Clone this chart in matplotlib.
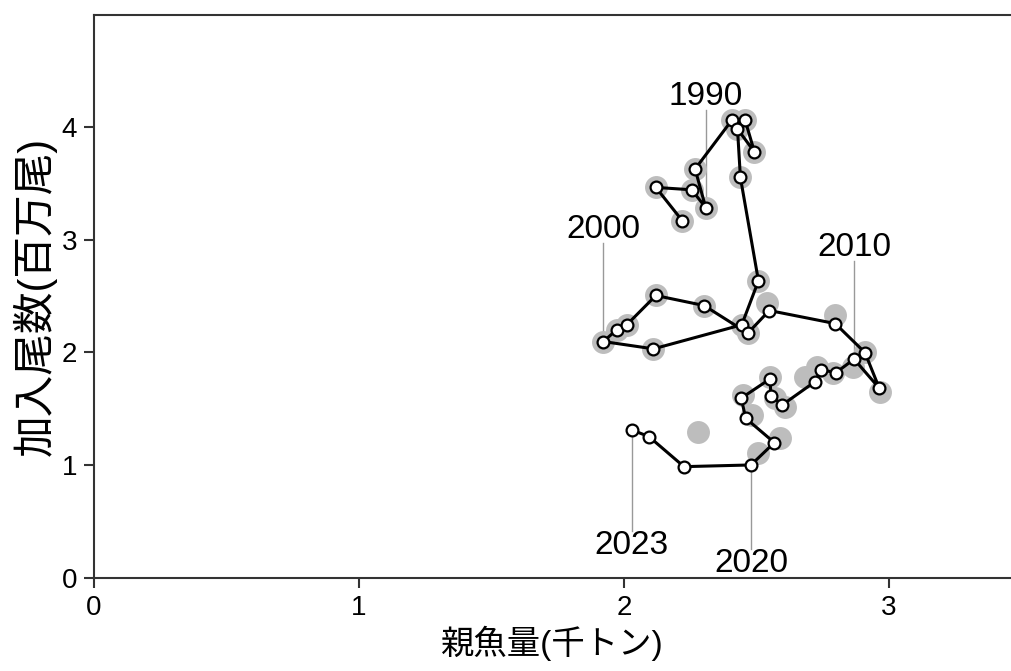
import matplotlib
matplotlib.use("Agg")
import matplotlib.pyplot as plt
import numpy as np

plt.rcParams['font.family'] = ['Liberation Sans', 'Noto Sans CJK JP']

years = np.arange(1987, 2024)
# current assessment: spawning biomass (thousand t), recruits (millions)
ssb = [2.220, 2.120, 2.255, 2.308, 2.268, 2.406, 2.457, 2.492, 2.428, 2.439,
       2.507, 2.444, 2.111, 1.922, 1.972, 2.010, 2.120, 2.302, 2.467, 2.548,
       2.797, 2.909, 2.963, 2.868, 2.800, 2.742, 2.721, 2.597, 2.554, 2.551,
       2.442, 2.459, 2.567, 2.479, 2.226, 2.094, 2.029]
rec = [3.166, 3.462, 3.441, 3.284, 3.625, 4.056, 4.056, 3.776, 3.980, 3.550,
       2.634, 2.244, 2.031, 2.096, 2.200, 2.244, 2.504, 2.415, 2.170, 2.371,
       2.255, 1.998, 1.682, 1.940, 1.821, 1.845, 1.741, 1.534, 1.617, 1.765,
       1.594, 1.416, 1.200, 1.002, 0.987, 1.253, 1.313]

# previous assessment (1987-2021), grey circles
prev_ssb = ssb[:19] + [2.540, 2.796, 2.909, 2.966, 2.865, 2.789, 2.727, 2.683,
                       2.608, 2.570, 2.551, 2.450, 2.482, 2.589, 2.507, 2.280]
prev_rec = rec[:19] + [2.439, 2.333, 2.004, 1.652, 1.874, 1.818, 1.874, 1.783,
                       1.519, 1.596, 1.785, 1.623, 1.446, 1.239, 1.106, 1.298]

label_years = [1990, 2000, 2010, 2023, 2020]
label_y = [4.27, 3.09, 2.93, 0.29, 0.13]   # text centre height

fig = plt.figure(figsize=(10.11, 6.71), dpi=100)
ax = fig.add_axes([0.093, 0.1386, 0.907, 0.839])

ax.plot(prev_ssb, prev_rec, 'o', ms=16.5, color='#bdbdbd', mec='none', zorder=2)
ax.plot(ssb, rec, '-', color='black', lw=2.2, zorder=3)
ax.plot(ssb, rec, 'o', ms=8.5, mfc='white', mec='black', mew=1.6, zorder=4)

for yr, ty in zip(label_years, label_y):
    i = yr - years[0]
    x0, y0 = ssb[i], rec[i]
    if ty > y0:
        ax.plot([x0, x0], [y0, ty - 0.12], color='#999999', lw=1, zorder=1)
    else:
        ax.plot([x0, x0], [y0, ty + 0.13], color='#999999', lw=1, zorder=1)
    ax.text(x0, ty, str(yr), ha='center', va='center', fontsize=24, zorder=5)

ax.set_xlim(0, 3.46)
ax.set_ylim(0, 4.99)
ax.set_xticks([0, 1, 2, 3])
ax.set_yticks([0, 1, 2, 3, 4])
ax.tick_params(length=7, width=1.5, color='#333333', pad=5, labelsize=20)
for s in ['left', 'bottom', 'top']:
    ax.spines[s].set_color('#333333')
    ax.spines[s].set_linewidth(1.5)
ax.spines['right'].set_visible(False)

ax.set_xlabel('親魚量(千トン)', fontsize=24, labelpad=4)
ax.set_ylabel('加入尾数(百万尾)', fontsize=30, labelpad=4)

fig.savefig('out.png', dpi=100)
